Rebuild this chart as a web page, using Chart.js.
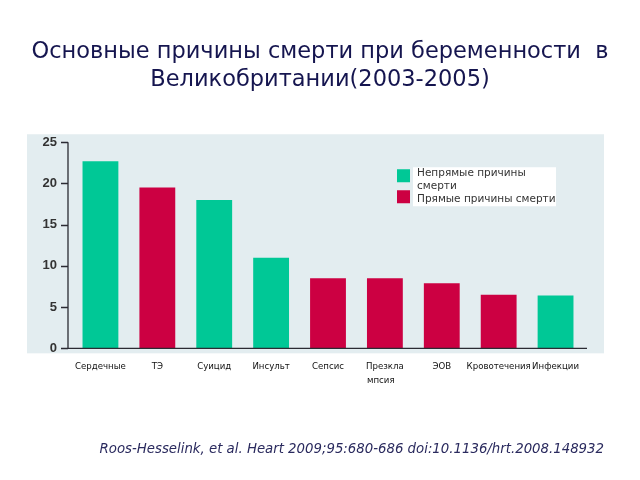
<!DOCTYPE html>
<html>
<head>
<meta charset="utf-8">
<script src="https://cdn.jsdelivr.net/npm/chart.js@4/dist/chart.umd.min.js"></script>
<style>
html,body{margin:0;padding:0;background:#fff;}
#wrap{width:640px;height:480px;}
</style>
</head>
<body>
<div id="wrap"><canvas id="c" width="640" height="480"></canvas></div>
<script>
const categories = ["Сердечные","ТЭ","Суицид","Инсульт","Сепсис",["Презкла","мпсия   "],"ЭОВ","Кровотечения","Инфекции"];
const indirectValues = [22.7, null, 18.0, 11.0, null, null, null, null, 6.4];
const directValues   = [null, 19.5, null, null, 8.5, 8.5, 7.9, 6.5, null];
const seriesNames = [["Непрямые причины","смерти"], ["Прямые причины смерти"]];
const yTicks = [0, 5, 10, 15, 20, 25];
const titleLines = ["Основные причины смерти при беременности  в", "Великобритании(2003-2005)"];
const sourceText = "Roos-Hesselink, et al. Heart 2009;95:680-686 doi:10.1136/hrt.2008.148932";

const GREEN = "#00c896";
const RED = "#cc0042";

const panelPlugin = {
  id: "panel",
  beforeDraw(chart) {
    const ctx = chart.ctx, a = chart.chartArea;
    ctx.save();
    ctx.fillStyle = "#e3edf0";
    ctx.fillRect(a.left - 45, a.top - 8, (a.right + 20) - (a.left - 45), (a.bottom + 5) - (a.top - 8));
    ctx.restore();
  },
  afterDatasetsDraw(chart) {
    const ctx = chart.ctx, a = chart.chartArea, y = chart.scales.y;
    const ax = a.left - 4;
    ctx.save();
    ctx.strokeStyle = "#2b2b33";
    ctx.lineWidth = 1.3;
    ctx.beginPath();
    ctx.moveTo(ax, y.getPixelForValue(25));
    ctx.lineTo(ax, a.bottom);
    ctx.lineTo(a.right + 3, a.bottom);
    yTicks.forEach(v => {
      const py = Math.round(y.getPixelForValue(v)) + 0.5;
      ctx.moveTo(ax - 7, py);
      ctx.lineTo(ax, py);
    });
    ctx.stroke();
    ctx.restore();
  },
  afterDraw(chart) {
    const ctx = chart.ctx, a = chart.chartArea;
    ctx.save();
    ctx.fillStyle = "#2a2a5e";
    ctx.font = "italic 13.3px 'DejaVu Sans'";
    ctx.textAlign = "right";
    ctx.textBaseline = "middle";
    ctx.fillText(sourceText, a.right + 20, a.bottom + 101);
    ctx.restore();
  }
};

const legendPlugin = {
  id: "insideLegend",
  afterDraw(chart) {
    const ctx = chart.ctx, a = chart.chartArea;
    const x0 = a.left + 325, y0 = a.top + 27;
    ctx.save();
    ctx.fillStyle = "#ffffff";
    ctx.fillRect(x0 + 16, y0 - 2, 143, 39);
    ctx.font = "10.5px 'DejaVu Sans'";
    ctx.textBaseline = "middle";
    ctx.textAlign = "left";
    const sqY = [y0, y0 + 21];
    let line = 0;
    chart.data.datasets.forEach((ds, i) => {
      ctx.fillStyle = ds.backgroundColor;
      ctx.fillRect(x0, sqY[i], 13, 13);
      ctx.fillStyle = "#333";
      const lines = Array.isArray(ds.label) ? ds.label : [ds.label];
      lines.forEach(t => {
        ctx.fillText(t, x0 + 20, y0 + 4 + line * 13);
        line++;
      });
    });
    ctx.restore();
  }
};

new Chart(document.getElementById("c"), {
  type: "bar",
  data: {
    labels: categories,
    datasets: [
      { label: seriesNames[0], data: indirectValues, backgroundColor: GREEN, barPercentage: 0.63, categoryPercentage: 1 },
      { label: seriesNames[1], data: directValues, backgroundColor: RED, barPercentage: 0.63, categoryPercentage: 1 }
    ]
  },
  options: {
    responsive: false,
    animation: false,
    layout: { padding: { left: 0, right: 0, top: 0, bottom: 81 } },
    plugins: {
      legend: { display: false },
      tooltip: { enabled: false },
      title: {
        display: true,
        text: titleLines,
        color: "#15154f",
        font: { family: "'DejaVu Sans'", size: 22.5, weight: "normal", lineHeight: 1.25 },
        padding: { top: 38, bottom: 48 }
      }
    },
    scales: {
      x: {
        stacked: true,
        grid: { display: false, drawTicks: false },
        border: { display: false },
        ticks: {
          color: "#111",
          font: { family: "'DejaVu Sans'", size: 8.6, lineHeight: 1.55 },
          padding: 12,
          maxRotation: 0,
          autoSkip: false
        }
      },
      y: {
        stacked: true,
        min: 0,
        max: 25,
        afterFit(scale) { scale.width = 72; },
        afterBuildTicks(scale) { scale.ticks = yTicks.map(v => ({ value: v })); },
        grid: { display: false, drawTicks: false },
        border: { display: false },
        ticks: {
          color: "#333",
          font: { family: "'Liberation Sans'", size: 13, weight: "bold" },
          padding: 15
        }
      },
      rightSpace: {
        type: "linear",
        position: "right",
        display: true,
        afterFit(scale) { scale.width = 56; },
        grid: { display: false, drawTicks: false },
        border: { display: false },
        ticks: { display: false }
      }
    }
  },
  plugins: [panelPlugin, legendPlugin]
});
</script>
</body>
</html>
